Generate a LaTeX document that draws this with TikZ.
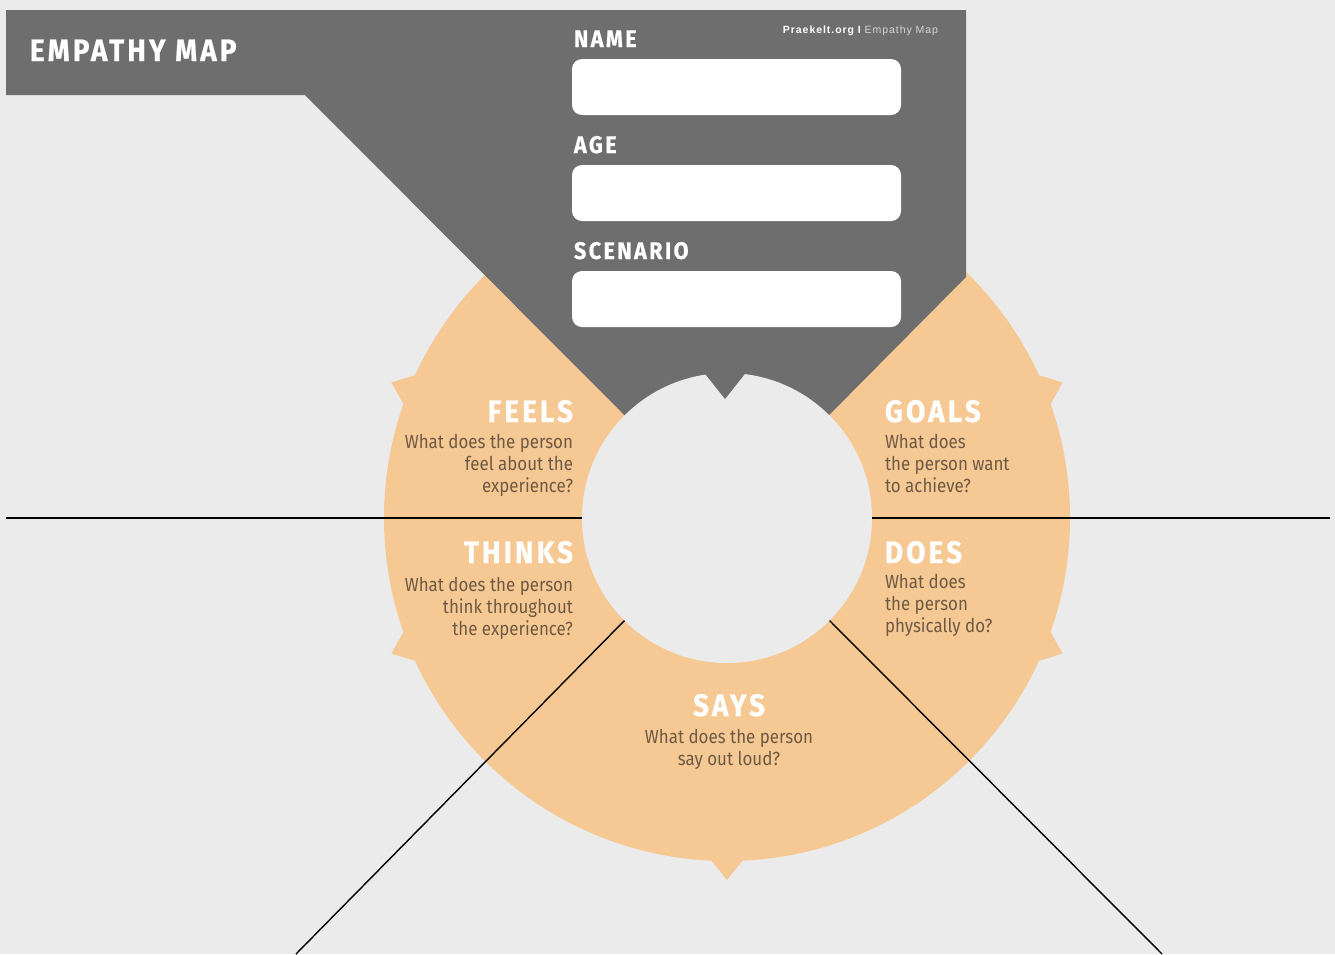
\documentclass[tikz,border=0pt]{standalone}
\usepackage{fontspec}
\setmainfont{Fira Sans}
\newfontfamily\headfont[FakeStretch=0.9,LetterSpace=10,BoldFeatures={FakeBold=0.6}]{Fira Sans}
\newfontfamily\askfont[FakeStretch=0.89]{Fira Sans}
\newfontfamily\tagfont[LetterSpace=9]{Liberation Sans}
\usetikzlibrary{positioning,calc}
\definecolor{paper}{HTML}{EBEBEB}
\definecolor{slab}{HTML}{6E6E6E}
\definecolor{ring}{HTML}{F6C994}
\definecolor{asktext}{HTML}{6E5A44}
\definecolor{tagtext}{HTML}{D6D6D6}

\begin{document}
\begin{tikzpicture}[x=1pt,y=-1pt,line width=1.4pt]
\tikzstyle{every node}=[inner sep=0pt,outer sep=0pt]
\tikzstyle{head}=[font=\headfont\bfseries\fontsize{31}{31}\selectfont,text=white]
\tikzstyle{fieldlabel}=[font=\headfont\bfseries\fontsize{24}{24}\selectfont,text=white]
\tikzstyle{ask}=[font=\askfont\fontsize{19}{21.7}\selectfont,text=asktext]
\tikzstyle{field}=[fill=white,rounded corners=10pt,minimum width=329pt,minimum height=56pt]
%\draw[help lines] (0,0) grid[step=50] (1335,954);
\path[use as bounding box,fill=paper] (0,0) rectangle (1335,954);
\coordinate (c) at (727,518);

% ring with its tabs
\node[circle,fill=ring,minimum size=686pt] (rim) at (c) {};
\foreach \a in {22,90,158,202,338}
  \fill[ring] ($(c)+(\a-2.9:341)$) -- ($(c)+(\a:362)$) -- ($(c)+(\a+2.9:341)$) -- cycle;

% grey header and wedge
\fill[slab] (6,10) -- (966,10) -- (966,277) -- (c) -- (305,95) -- (6,95) -- cycle;
\node[circle,fill=paper,minimum size=290pt] (hub) at (c) {};
\fill[slab] (702,370) -- (748,370) -- (725,399) -- cycle;

% dividing lines
\coordinate (wl) at (6,518);
\coordinate (el) at (1330,518);
\coordinate (sw) at (296,954);
\coordinate (se) at (1162,954);
\draw (wl) -- (hub.west);
\draw (hub.east) -- (el);
\draw (hub.225) -- (sw);
\draw (hub.315) -- (se);

% header texts and fields
\node[head,anchor=base west] (title) at (30,61) {EMPATHY MAP};
\node[font=\tagfont\fontsize{10.5}{10.5}\selectfont,anchor=base east] (tag) at (938,33)
  {\textcolor{white}{\bfseries Praekelt.org I} \textcolor{tagtext}{Empathy Map}};
\node[field,anchor=north west] (namef) at (572,59) {};
\node[field,anchor=north west] (agef) at (572,165) {};
\node[field,anchor=north west] (scenf) at (572,271) {};
\node[fieldlabel,anchor=base west] (namel) at ($(namef.north west)+(2,-12)$) {NAME};
\node[fieldlabel,anchor=base west] (agel) at ($(agef.north west)+(2,-12)$) {AGE};
\node[fieldlabel,anchor=base west] (scenl) at ($(scenf.north west)+(2,-12)$) {SCENARIO};

% quadrants
\node[head,anchor=base east] (feels) at (573,422) {FEELS};
\node[ask,align=right,below left=12pt and 0pt of feels.south east] (feelsq)
  {What does the person\\feel about the\\experience?};
\node[head,anchor=base west] (goals) at (885,422) {GOALS};
\node[ask,align=left,below right=12pt and 0pt of goals.south west] (goalsq)
  {What does\\the person want\\to achieve?};
\node[head,anchor=base east] (thinks) at (573,563) {THINKS};
\node[ask,align=right,below left=14pt and 0pt of thinks.south east] (thinksq)
  {What does the person\\think throughout\\the experience?};
\node[head,anchor=base west] (does) at (885,563) {DOES};
\node[ask,align=left,below right=11pt and 0pt of does.south west] (doesq)
  {What does\\the person\\physically do?};
\node[head,anchor=base] (says) at (729,716) {SAYS};
\node[ask,align=center,below=13pt of says.south] (saysq)
  {What does the person\\say out loud?};
\end{tikzpicture}
\end{document}
